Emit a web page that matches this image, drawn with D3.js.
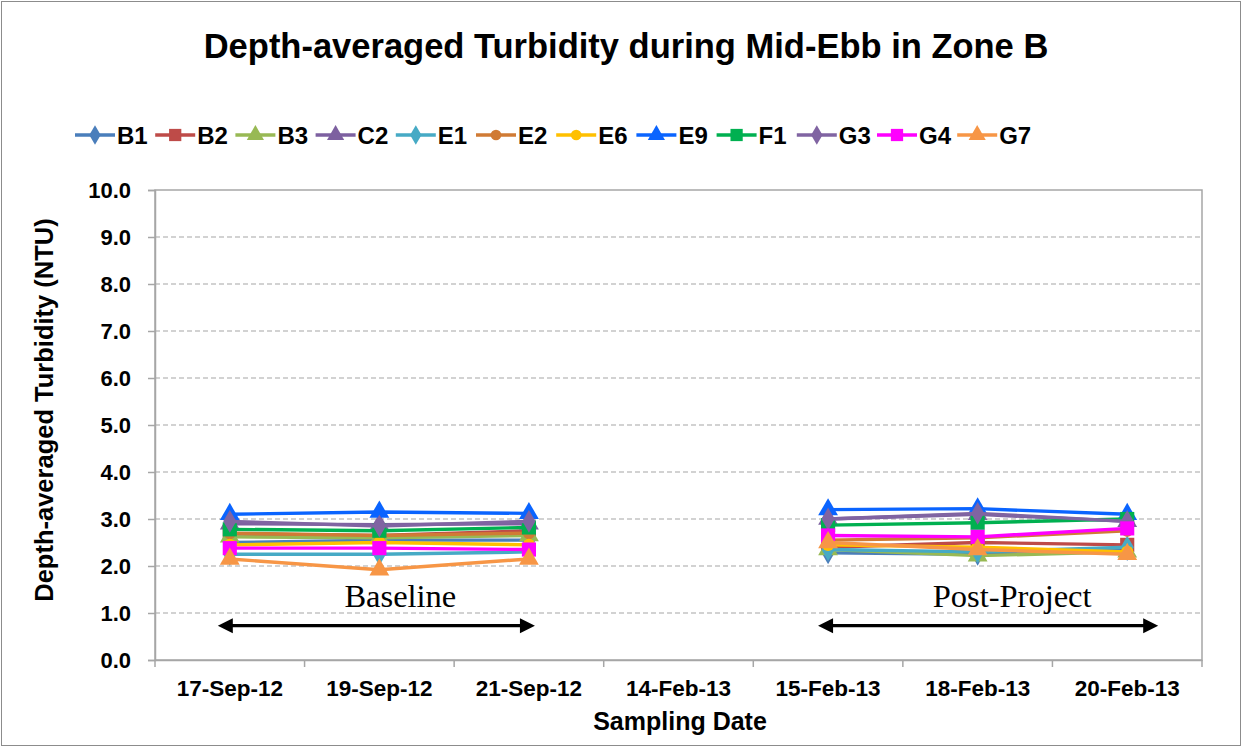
<!DOCTYPE html>
<html>
<head>
<meta charset="utf-8">
<script src="https://cdn.jsdelivr.net/npm/d3@7"></script>
<style>
  body { margin: 0; background: #fff; }
  svg { display: block; font-family: "Liberation Sans", Arial, sans-serif; }
</style>
</head>
<body>
<div id="wrapper"></div>
<script>
// categories along the x axis
const dates = ["17-Sep-12", "19-Sep-12", "21-Sep-12", "14-Feb-13", "15-Feb-13", "18-Feb-13", "20-Feb-13"] ;

// station names, in legend / drawing order
const stations = ["B1", "B2", "B3", "C2", "E1", "E2", "E6", "E9", "F1", "G3", "G4", "G7"] ;

// depth-averaged turbidity (NTU), null = no sampling that date
const B1 = [2.50, 2.55, 2.55, null, 2.28, 2.25, 2.35] ;
const B2 = [2.68, 2.65, 2.75, null, 2.40, 2.50, 2.45] ;
const B3 = [2.62, 2.60, 2.65, null, 2.35, 2.22, 2.30] ;
const C2 = [2.90, 2.88, 2.90, null, 3.00, 3.10, 2.95] ;
const E1 = [2.25, 2.25, 2.30, null, 2.35, 2.30, 2.40] ;
const E2 = [2.70, 2.65, 2.70, null, 2.55, 2.60, 2.75] ;
const E6 = [2.45, 2.50, 2.45, null, 2.45, 2.40, 2.30] ;
const E9 = [3.10, 3.15, 3.12, null, 3.20, 3.22, 3.10] ;
const F1 = [2.78, 2.75, 2.82, null, 2.87, 2.92, 3.00] ;
const G3 = [2.95, 2.85, 2.95, null, 3.00, 3.12, 2.95] ;
const G4 = [2.38, 2.38, 2.35, null, 2.65, 2.62, 2.80] ;
const G7 = [2.15, 1.92, 2.15, null, 2.50, 2.35, 2.25] ;

const yTicks = [0, 1, 2, 3, 4, 5, 6, 7, 8, 9, 10] ;

const seriesValues = {B1, B2, B3, C2, E1, E2, E6, E9, F1, G3, G4, G7} ;

const seriesStyle = {
  "B1": {color: "#4a7ebb", shape: "diamond"},
  "B2": {color: "#be4b48", shape: "square"},
  "B3": {color: "#98b954", shape: "triangle"},
  "C2": {color: "#7d60a0", shape: "triangle"},
  "E1": {color: "#46aac5", shape: "diamond"},
  "E2": {color: "#d07b35", shape: "circle"},
  "E6": {color: "#ffc000", shape: "circle"},
  "E9": {color: "#0a64ff", shape: "triangle"},
  "F1": {color: "#00b050", shape: "square"},
  "G3": {color: "#8064a2", shape: "diamond"},
  "G4": {color: "#ff00ff", shape: "square"},
  "G7": {color: "#f79646", shape: "triangle"}
} ;

const symbolType = {
  diamond: d3.symbolDiamond,
  square: d3.symbolSquare,
  triangle: d3.symbolTriangle,
  circle: d3.symbolCircle
} ;
const symbolSize = {diamond: 150, square: 200, triangle: 170, circle: 120} ;

function drawChart() {
  let dimensions = {
    width: 1243,
    height: 747,
    margin: {
      top: 190,
      right: 41,
      bottom: 87,
      left: 155
    }
  } ;
  dimensions.boundedWidth = dimensions.width - dimensions.margin.left - dimensions.margin.right ;
  dimensions.boundedHeight = dimensions.height - dimensions.margin.top - dimensions.margin.bottom ;

  const svg = d3.select("#wrapper").append("svg")
    .attr("width", dimensions.width)
    .attr("height", dimensions.height) ;

  // outer chart border
  svg.append("rect")
    .attr("x", 1.5).attr("y", 1.5)
    .attr("width", dimensions.width - 4)
    .attr("height", dimensions.height - 3)
    .attr("fill", "none")
    .attr("stroke", "#8c8c8c") ;

  svg.append("text")
    .attr("x", 626).attr("y", 58)
    .attr("text-anchor", "middle")
    .style("font-size", "34.5px").style("font-weight", "bold")
    .text("Depth-averaged  Turbidity during Mid-Ebb in Zone B") ;

  const bounds = svg.append("g")
    .attr("transform", `translate(${dimensions.margin.left}, ${dimensions.margin.top})`) ;

  const xScale = d3.scaleBand()
    .domain(dates)
    .range([0, dimensions.boundedWidth]) ;
  const xCenter = (d) => xScale(d) + xScale.bandwidth() / 2 ;

  const yScale = d3.scaleLinear()
    .domain([0, 10])
    .range([dimensions.boundedHeight, 0]) ;

  // gridlines
  bounds.append("g")
    .selectAll("line")
    .data(yTicks.filter((d) => d > 0 && d < 10))
    .enter().append("line")
      .attr("x1", 0).attr("x2", dimensions.boundedWidth)
      .attr("y1", (d) => yScale(d)).attr("y2", (d) => yScale(d))
      .attr("stroke", "#a6a6a6")
      .attr("stroke-width", 1.2)
      .attr("stroke-dasharray", "5,3") ;

  // plot-area border
  bounds.append("rect")
    .attr("x", 0).attr("y", 0)
    .attr("width", dimensions.boundedWidth)
    .attr("height", dimensions.boundedHeight)
    .attr("fill", "none")
    .attr("stroke", "#a6a6a6")
    .attr("stroke-width", 1.5) ;

  // axes
  const yAxis = bounds.append("g")
    .call(d3.axisLeft(yScale).tickValues(yTicks).tickFormat(d3.format(".1f")).tickSize(7).tickPadding(17)) ;
  yAxis.select(".domain").attr("stroke", "#a6a6a6").attr("stroke-width", 1.5) ;
  yAxis.selectAll(".tick line").attr("stroke", "#a6a6a6").attr("stroke-width", 1.5) ;
  yAxis.selectAll(".tick text")
    .style("font-size", "22px").style("font-weight", "bold")
    .style("font-family", "'Liberation Sans', Arial, sans-serif")
    .attr("fill", "#000") ;

  const xAxis = bounds.append("g")
    .attr("transform", `translate(0, ${dimensions.boundedHeight})`)
    .call(d3.axisBottom(xScale).tickSize(0).tickPadding(20)) ;
  xAxis.select(".domain").attr("stroke", "#a6a6a6").attr("stroke-width", 1.5) ;
  xAxis.selectAll(".tick text")
    .style("font-size", "22.5px").style("font-weight", "bold")
    .style("font-family", "'Liberation Sans', Arial, sans-serif")
    .attr("fill", "#000") ;
  // category boundary tick marks
  bounds.append("g")
    .selectAll("line")
    .data(dates.concat(["end"]))
    .enter().append("line")
      .attr("x1", (d, i) => i * xScale.bandwidth())
      .attr("x2", (d, i) => i * xScale.bandwidth())
      .attr("y1", dimensions.boundedHeight)
      .attr("y2", dimensions.boundedHeight + 7)
      .attr("stroke", "#a6a6a6").attr("stroke-width", 1.5) ;

  // axis titles
  svg.append("text")
    .attr("x", 680).attr("y", 730)
    .attr("text-anchor", "middle")
    .style("font-size", "25px").style("font-weight", "bold")
    .text("Sampling Date") ;
  svg.append("text")
    .attr("transform", `translate(53, ${dimensions.margin.top + dimensions.boundedHeight / 2 - 15}) rotate(-90)`)
    .attr("text-anchor", "middle")
    .style("font-size", "25.5px").style("font-weight", "bold")
    .text("Depth-averaged Turbidity (NTU)") ;

  // annotations: period arrows and labels (tip offsets from category centres)
  const periods = [
    {label: "Baseline", from: "17-Sep-12", to: "21-Sep-12", padL: 12, padR: 6, textDx: 0},
    {label: "Post-Project", from: "15-Feb-13", to: "20-Feb-13", padL: 10, padR: 31, textDx: 0}
  ] ;
  const headLen = 15, headHalf = 7.5 ;
  periods.forEach((p) => {
    const x0 = xCenter(p.from) - p.padL ;
    const x1 = xCenter(p.to) + p.padR ;
    const ya = yScale(0.73) ;
    bounds.append("line")
      .attr("x1", x0 + headLen - 2).attr("x2", x1 - headLen + 2)
      .attr("y1", ya).attr("y2", ya)
      .attr("stroke", "#000").attr("stroke-width", 3.2) ;
    bounds.append("path")
      .attr("d", `M${x0},${ya} L${x0 + headLen},${ya - headHalf} L${x0 + headLen},${ya + headHalf} Z`)
      .attr("fill", "#000") ;
    bounds.append("path")
      .attr("d", `M${x1},${ya} L${x1 - headLen},${ya - headHalf} L${x1 - headLen},${ya + headHalf} Z`)
      .attr("fill", "#000") ;
    bounds.append("text")
      .attr("x", (x0 + x1) / 2 + 24 + p.textDx)
      .attr("y", yScale(1.13))
      .attr("text-anchor", "middle")
      .style("font-family", "'Liberation Serif', 'DejaVu Serif', serif")
      .style("font-size", "32.5px")
      .text(p.label) ;
  }) ;

  // series lines + markers, drawn in legend order (later on top)
  const line = d3.line()
    .defined((d) => d.v !== null)
    .x((d) => xCenter(d.date))
    .y((d) => yScale(d.v)) ;

  stations.forEach((s) => {
    const style = seriesStyle[s] ;
    const pts = seriesValues[s].map((v, i) => ({date: dates[i], v: v})) ;
    const g = bounds.append("g").attr("class", "series-" + s) ;
    g.append("path")
      .datum(pts)
      .attr("d", line)
      .attr("fill", "none")
      .attr("stroke", style.color)
      .attr("stroke-width", 3.4)
      .attr("stroke-linejoin", "round") ;
    g.selectAll("path.marker")
      .data(pts.filter((d) => d.v !== null))
      .enter().append("path")
        .attr("class", "marker")
        .attr("transform", (d) => `translate(${xCenter(d.date)}, ${yScale(d.v)})`)
        .attr("d", d3.symbol().type(symbolType[style.shape]).size(symbolSize[style.shape]))
        .attr("fill", style.color) ;
  }) ;

  // legend
  const legend = svg.append("g").attr("transform", "translate(75, 135)") ;
  stations.forEach((s, i) => {
    const style = seriesStyle[s] ;
    const item = legend.append("g").attr("transform", `translate(${i * 80.2}, 0)`) ;
    item.append("line")
      .attr("x1", 0).attr("x2", 40)
      .attr("stroke", style.color).attr("stroke-width", 3.4) ;
    item.append("path")
      .attr("transform", "translate(20, 0)")
      .attr("d", d3.symbol().type(symbolType[style.shape]).size(symbolSize[style.shape] * 0.75))
      .attr("fill", style.color) ;
    item.append("text")
      .attr("x", 42).attr("y", 9)
      .style("font-size", "24px").style("font-weight", "bold")
      .text(s) ;
  }) ;
}

drawChart() ;
</script>
</body>
</html>
